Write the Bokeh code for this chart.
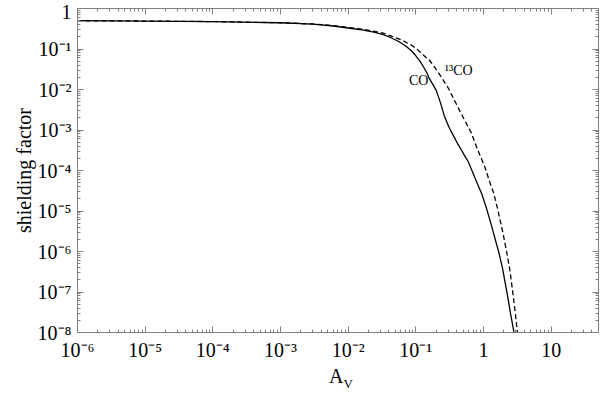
import numpy as np
from bokeh.plotting import figure
from bokeh.models import FixedTicker, LogAxis, Label, Range1d, Div
from bokeh.layouts import column
from bokeh.embed import file_html
from bokeh.resources import INLINE
from bokeh.core.properties import value

# CO shielding factor (solid)
av_co = [1e-6, 1e-5, 1e-4, 1e-3, 3e-3, 0.006, 0.01, 0.016, 0.024, 0.033, 0.043, 0.055, 0.07,
         0.085, 0.1, 0.115, 0.13, 0.145, 0.16, 0.18, 0.2, 0.23, 0.264, 0.31, 0.372, 0.42,
         0.472, 0.52, 0.6, 0.7, 0.8, 0.93, 1.1, 1.3, 1.5, 1.67, 1.9, 2.1, 2.3, 2.5, 2.7,
         2.88, 3.1]
sh_co = [0.50, 0.49, 0.475, 0.445, 0.41, 0.37, 0.33, 0.295, 0.26, 0.225, 0.19, 0.155, 0.12,
         0.092, 0.068, 0.05, 0.036, 0.026, 0.018, 0.013, 0.0095, 4.8e-3, 2.2e-3, 1.15e-3, 6.5e-4,
         4.4e-4, 3.2e-4, 2.4e-4, 1.6e-4, 8.5e-5, 5e-5, 2.8e-5, 1.2e-5, 4.6e-6, 1.9e-6, 1.0e-6,
         4e-7, 1.6e-7, 7e-8, 3e-8, 1.5e-8, 8e-9, 3.5e-9]

# 13CO shielding factor (dashed)
av_13co = [1e-6, 1e-5, 1e-4, 1e-3, 3e-3, 0.006, 0.01, 0.016, 0.024, 0.033, 0.043, 0.06,
           0.086, 0.105, 0.13, 0.16, 0.188, 0.23, 0.30, 0.36, 0.44, 0.54, 0.66, 0.81, 1.05,
           1.2, 1.41, 1.6, 1.8, 2.0, 2.19, 2.45, 2.7, 2.95, 3.19, 3.4]
sh_13co = [0.50, 0.49, 0.475, 0.445, 0.415, 0.38, 0.34, 0.31, 0.275, 0.245, 0.21, 0.17,
           0.125, 0.098, 0.07, 0.052, 0.036, 0.022, 0.011, 6e-3, 3.1e-3, 1.6e-3, 8.5e-4, 3.4e-4,
           1.2e-4, 6e-5, 2.8e-5, 1.2e-5, 5e-6, 2.2e-6, 1.0e-6, 3.5e-7, 1.0e-7, 3e-8, 9e-9, 3e-9]

x_ticks = [1e-6, 1e-5, 1e-4, 1e-3, 1e-2, 1e-1, 1, 10]
x_labels = ["10⁻⁶", "10⁻⁵", "10⁻⁴", "10⁻³", "10⁻²", "10⁻¹", "1", "10"]
y_ticks = [1e-8, 1e-7, 1e-6, 1e-5, 1e-4, 1e-3, 1e-2, 1e-1, 1]
y_labels = ["10⁻⁸", "10⁻⁷", "10⁻⁶", "10⁻⁵", "10⁻⁴", "10⁻³", "10⁻²", "10⁻¹", "1"]

FONT = "Liberation Serif"
AXC = "#808080"


def minors(ticks, lo, hi):
    out = []
    for t in ticks + [ticks[-1] * 10]:
        for k in range(2, 10):
            v = t * k
            if lo <= v <= hi:
                out.append(v)
    return out


p = figure(width=600, height=364, x_axis_type="log", y_axis_type="log",
           x_range=Range1d(1e-6, 50), y_range=Range1d(1e-8, 1),
           output_backend="svg", toolbar_location=None,
           min_border_left=77, min_border_right=2, min_border_top=8, min_border_bottom=32)
p.grid.visible = False
p.outline_line_color = "#b0b0b0"
p.background_fill_color = "white"
p.border_fill_color = "white"

p.line(av_co, sh_co, line_color="black", line_width=1.3)
p.line(av_13co, sh_13co, line_color="black", line_width=1.3, line_dash="5 3")


def style(ax, labels=True):
    ax.axis_line_color = AXC
    ax.major_tick_line_color = AXC
    ax.minor_tick_line_color = AXC
    ax.major_tick_in = 6
    ax.major_tick_out = 0
    ax.minor_tick_in = 3
    ax.minor_tick_out = 0
    ax.major_label_text_font = FONT
    ax.major_label_text_font_size = "20px"
    ax.major_label_text_color = "black"
    ax.axis_label_text_font = FONT
    ax.axis_label_text_font_style = "normal"
    ax.axis_label_text_font_size = "20px"
    ax.axis_label_text_color = "black"
    if not labels:
        ax.major_label_text_font_size = "1px"
        ax.major_label_text_alpha = 0
        ax.major_label_standoff = 0


xa = p.xaxis[0]
xa.ticker = FixedTicker(ticks=x_ticks, minor_ticks=minors(x_ticks, 1e-6, 50))
xa.major_label_overrides = {t: l for t, l in zip(x_ticks, x_labels)}
style(xa)
xa.major_label_standoff = 6

ya = p.yaxis[0]
ya.ticker = FixedTicker(ticks=y_ticks, minor_ticks=minors(y_ticks, 1e-8, 1))
ya.major_label_overrides = {t: l for t, l in zip(y_ticks, y_labels)}
style(ya)
ya.major_label_standoff = 6
ya.axis_label = "shielding factor"
ya.axis_label_standoff = 0

top = LogAxis(ticker=FixedTicker(ticks=x_ticks, minor_ticks=minors(x_ticks, 1e-6, 50)))
style(top, labels=False)
p.add_layout(top, "above")
right = LogAxis(ticker=FixedTicker(ticks=y_ticks, minor_ticks=minors(y_ticks, 1e-8, 1)))
style(right, labels=False)
p.add_layout(right, "right")

# curve labels
p.add_layout(Label(x=0.11, y=0.017, text="CO", text_font=FONT, text_font_size="14px",
                   text_color="black", text_align="center", text_baseline="middle"))
p.add_layout(Label(x=0.43, y=0.029, text="¹³CO", text_font=FONT, text_font_size="14px",
                   text_color="black", text_align="center", text_baseline="middle"))

# x axis label A_V
xlabel = Div(text='A<sub style="font-size:13px">V</sub>', width=600, height=30,
             styles={"font-family": FONT, "font-size": "20px", "color": "black",
                     "padding-left": "329px", "line-height": "24px", "margin": "0"})

layout = column(p, xlabel, spacing=0)
open("out.html", "w").write(file_html(layout, INLINE))
